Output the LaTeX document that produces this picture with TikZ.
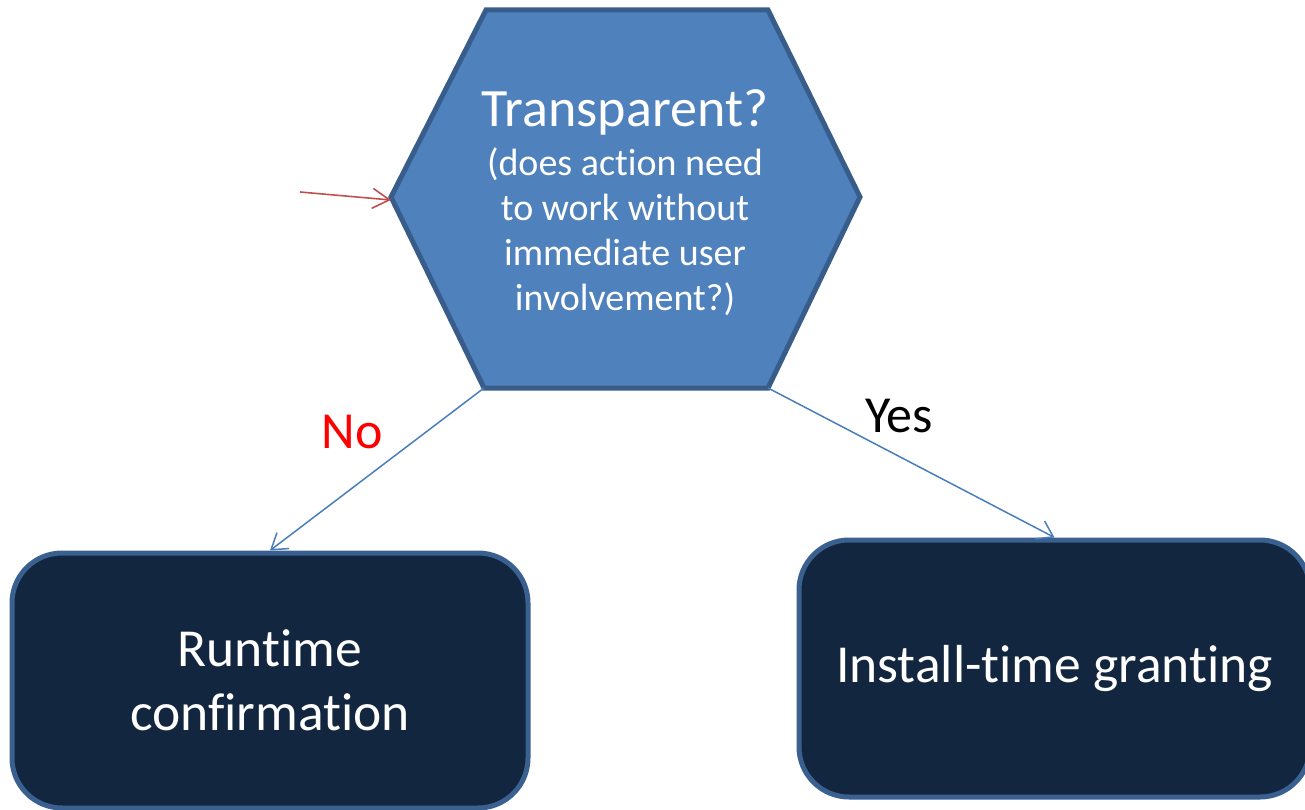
\documentclass[tikz,border=0pt]{standalone}
\usepackage{fontspec}
\setmainfont[Ligatures=NoCommon]{Carlito}
\usetikzlibrary{arrows.meta}

\definecolor{hexfill}{HTML}{4F81BD}
\definecolor{hexline}{HTML}{385D8A}
\definecolor{boxfill}{HTML}{12263F}
\definecolor{boxline}{HTML}{3A6090}
\definecolor{flowblue}{HTML}{4A7EBB}
\definecolor{feedred}{HTML}{C0504D}

\tikzset{
	decision/.style={draw=hexline, fill=hexfill, line width=5pt},
	outcome/.style={draw=boxline, fill=boxfill, line width=5pt, rounded corners=50pt,
		text=white, align=center, font=\fontsize{53.5}{64}\selectfont},
	flow/.style={draw=flowblue, line width=1.5pt, -{Straight Barb[length=15pt,width=20pt]}},
	answer/.style={font=\fontsize{52}{60}\selectfont}
}

\begin{document}
\begin{tikzpicture}[x=1pt, y=-1pt]
\clip (0,0) rectangle (1305,810);
%
\draw [decision] (486,10) coordinate (hexNW) -- (768,10) coordinate (hexNE)
	-- (860,197) coordinate (hexE) -- (768,388) coordinate (hexSE)
	-- (484,388) coordinate (hexSW) -- (391,197) coordinate (hexW) -- cycle;
\node [text=white, align=center, inner sep=0pt, font=\fontsize{38}{45}\selectfont] (quest) at (625,203)
	{{\fontsize{54}{54}\selectfont Transparent?}\\[4pt]
	(does action need\\to work without\\immediate user\\involvement?)};
%
\node [outcome, minimum width=516pt, minimum height=255pt] (runtime) at (270,680.5) {Runtime\\confirmation};
\node [outcome, minimum width=511pt, minimum height=257pt] (install) at (1054.5,668.5) {Install-time granting};
%
\coordinate (feed) at (300,192);
\draw [draw=feedred, line width=1.6pt, -{Straight Barb[length=17pt,width=20pt]}] (feed) -- ([yshift=-3pt]hexW);
\draw [flow] (hexSW) -- (runtime.north);
\draw [flow] (hexSE) -- (install.north);
%
\node [answer, text=red] (no) at (352,432) {No};
\node [answer] (yes) at (899,416) {Yes};
\end{tikzpicture}
\end{document}
